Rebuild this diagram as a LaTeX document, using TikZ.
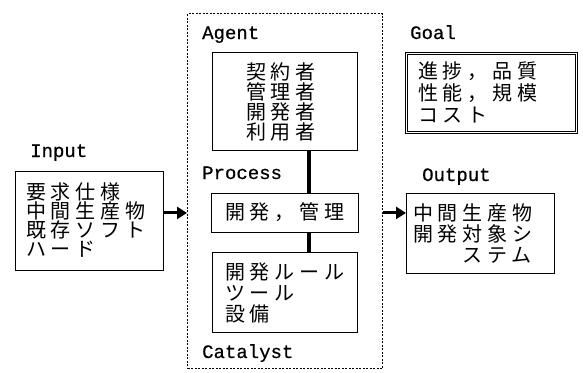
\documentclass[tikz,border=0pt]{standalone}
\usepackage{fontspec}
\newfontfamily\jpfont[LetterSpace=24]{Noto Sans CJK JP}
\newfontfamily\lblfont[FakeBold=0.6]{Liberation Mono}
\usetikzlibrary{arrows.meta}
\begin{document}
\begin{tikzpicture}[x=1pt,y=-1pt,
  box/.style={draw,line width=0.9pt,inner sep=0pt,anchor=north west},
  jtext/.style={anchor=north west,align=left,inner sep=0pt},
  lab/.style={anchor=base west,inner sep=0pt,font=\lblfont\fontsize{19}{19}\selectfont},
  flow/.style={line width=3pt,-{Triangle[length=10pt,width=12pt]}},
  link/.style={line width=4pt}]
\useasboundingbox[fill=white] (0,0) rectangle (583,372);
% boxes
\node[box,minimum width=148pt,minimum height=99pt] (inbox) at (15,171) {};
\node[box,dash pattern=on 2pt off 1.5pt,line width=1pt,minimum width=195pt,minimum height=355pt] (outer) at (187,13) {};
\node[box,minimum width=145pt,minimum height=98pt] (agent) at (212,52) {};
\node[box,minimum width=147pt,minimum height=39pt] (proc) at (211,193) {};
\node[box,minimum width=145pt,minimum height=80pt] (cat) at (212,252) {};
\node[box,double,double distance=1.6pt,line width=0.9pt,minimum width=170pt,minimum height=79pt] (goal) at (406,53) {};
\node[box,minimum width=148pt,minimum height=80pt] (outbox) at (406,193) {};
% labels
\node[lab] (linput) at (30,157) {Input};
\node[lab] (lagent) at (202,39) {Agent};
\node[lab] (lproc) at (202,179) {Process};
\node[lab] (lcat) at (202,358) {Catalyst};
\node[lab] (lgoal) at (410,39) {Goal};
\node[lab] (lout) at (422,181) {Output};
% texts
\node[jtext,font=\jpfont\fontsize{20}{19}\selectfont] (tin) at (26,182) {要求仕様\\中間生産物\\既存ソフト\\ハード};
\node[jtext,font=\jpfont\fontsize{20}{20}\selectfont] (tagent) at (246,62) {契約者\\管理者\\開発者\\利用者};
\node[jtext,font=\jpfont\fontsize{20}{20}\selectfont] (tproc) at (225,202) {開発，管理};
\node[jtext,font=\jpfont\fontsize{20}{21}\selectfont] (tcat) at (225,263) {開発ルール\\ツール\\設備};
\node[jtext,font=\jpfont\fontsize{20}{22}\selectfont] (tgoal) at (418,62) {進捗，品質\\性能，規模\\コスト};
\node[jtext,font=\jpfont\fontsize{20}{21}\selectfont] (tout) at (413,203) {中間生産物\\開発対象シ\\　　ステム};
% connectors
\coordinate (lx) at (309,0);
\draw[link] (agent.south -| lx) -- (proc.north -| lx);
\draw[link] (proc.south -| lx) -- (cat.north -| lx);
\draw[flow] (inbox.east |- proc.west) -- (outer.west |- proc.west);
\draw[flow] (outer.east |- proc.east) -- (outbox.west |- proc.east);
\end{tikzpicture}
\end{document}
